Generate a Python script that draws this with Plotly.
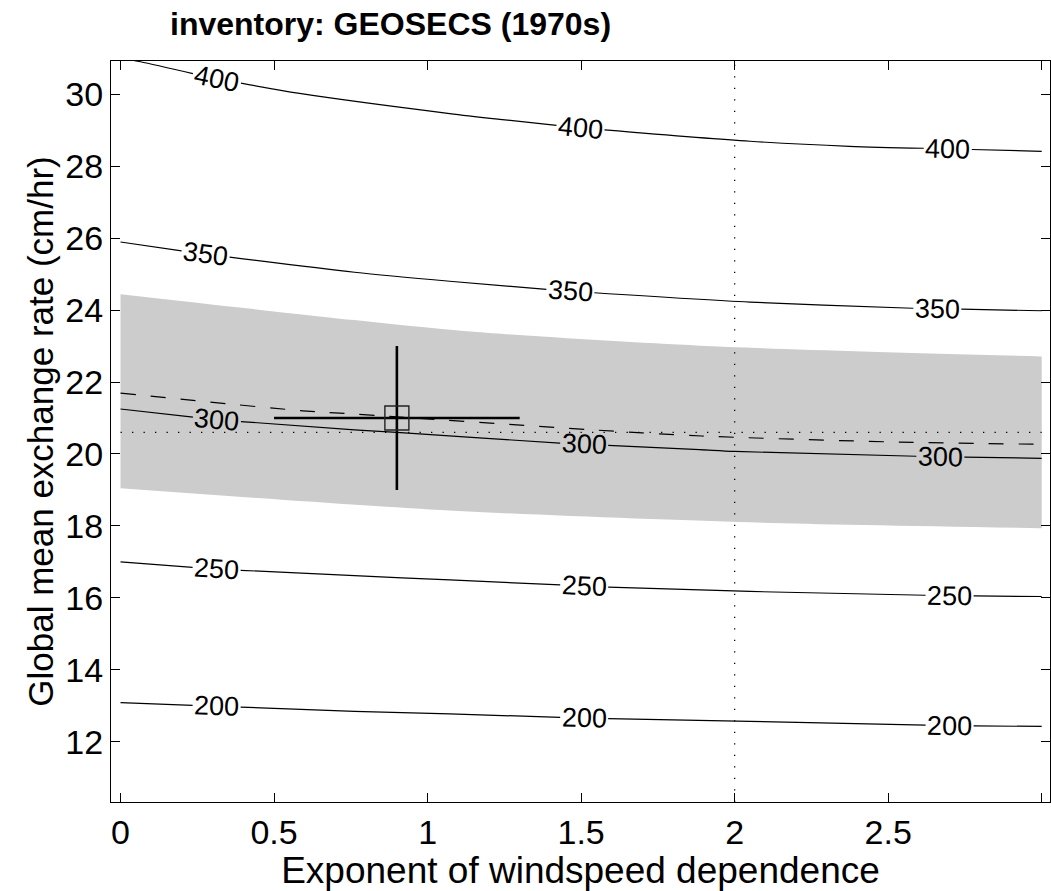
import numpy as np
import plotly.graph_objects as go

# ---------------- data ----------------
levels = [200, 250, 300, 350, 400]

c200_x = [0, 0.313, 0.762, 1.072, 1.435, 1.58, 2.05, 2.7, 3.0]
c200_y = [13.09, 12.99, 12.85, 12.78, 12.68, 12.65, 12.57, 12.45, 12.43]
c250_x = [0, 0.313, 0.762, 1.072, 1.435, 1.582, 2.05, 2.7, 3.0]
c250_y = [17.0, 16.8, 16.62, 16.5, 16.36, 16.3, 16.18, 16.06, 16.04]
c300_x = [0, 0.314, 0.762, 0.9, 1.43, 1.886, 2.0, 2.625, 3.0]
c300_y = [21.25, 20.95, 20.67, 20.6, 20.3, 20.12, 20.07, 19.93, 19.88]
c350_x = [0, 0.277, 0.762, 1.072, 1.465, 2.05, 2.58, 3.0]
c350_y = [25.89, 25.55, 25.05, 24.8, 24.52, 24.22, 24.05, 23.98]
c400_x = [0, 0.065, 0.314, 0.583, 1.072, 1.235, 1.498, 2.05, 2.374, 3.0]
c400_y = [31.0, 30.9, 30.42, 30.02, 29.46, 29.3, 29.06, 28.69, 28.55, 28.41]

label_x = {
    200: [0.313, 1.51, 2.70],
    250: [0.313, 1.51, 2.70],
    300: [0.314, 1.51, 2.67],
    350: [0.277, 1.465, 2.66],
    400: [0.314, 1.498, 2.694],
}

dash_x = [0, 0.594, 0.762, 1.537, 1.893, 2.537, 3.0]
dash_y = [21.69, 21.2, 21.11, 20.67, 20.5, 20.33, 20.27]

band_up_x = [0, 0.762, 1.127, 1.886, 3.0]
band_up_y = [24.44, 23.72, 23.41, 23.01, 22.71]
band_lo_x = [0, 1.072, 2.05, 3.0]
band_lo_y = [19.05, 18.43, 18.1, 17.94]

hline_x = [0, 3]
hline_y = 20.6
vline_x = 2.0

est_x, est_y = 0.9, 21.0
est_ex, est_ey = 0.4, 2.0

x_ticks = [0, 0.5, 1, 1.5, 2, 2.5, 3]
x_ticklabels = ["0", "0.5", "1", "1.5", "2", "2.5", "3"]
y_ticks = [12, 14, 16, 18, 20, 22, 24, 26, 28, 30]

title_text = "inventory: GEOSECS (1970s)"
x_title = "Exponent of windspeed dependence"
y_title = "Global mean exchange rate (cm/hr)"

# ---------------- layout geometry ----------------
W, H = 1051, 891
ML, MR, MT, MB = 111, 1, 61, 89
xr = [-0.031, 3.027]
yr = [10.33, 30.92]
pw, ph = W - ML - MR, H - MT - MB
xpx = pw / (xr[1] - xr[0])
ypx = ph / (yr[1] - yr[0])

FONT = "Liberation Sans, Arial, sans-serif"
contours = {200: (c200_x, c200_y), 250: (c250_x, c250_y), 300: (c300_x, c300_y),
            350: (c350_x, c350_y), 400: (c400_x, c400_y)}


def split_line(xs, ys, labs, half):
    xs = np.asarray(xs, float)
    ys = np.asarray(ys, float)
    cuts = []
    for lx in labs:
        cuts += [lx - half, lx + half]
    allx = np.unique(np.concatenate([xs, cuts]))
    allx = allx[(allx >= xs.min()) & (allx <= xs.max())]
    ally = np.interp(allx, xs, ys)

    def inside(v):
        return any(lx - half + 1e-9 < v < lx + half - 1e-9 for lx in labs)

    ox, oy = [], []
    prev = None
    for a, b in zip(allx, ally):
        if inside(a):
            continue
        if prev is not None and inside((prev + a) / 2):
            ox.append(None)
            oy.append(None)
        ox.append(a)
        oy.append(b)
        prev = a
    return ox, oy


fig = go.Figure()

# grey band (lower edge, then upper edge filled down to it)
fig.add_trace(go.Scatter(
    x=band_lo_x, y=band_lo_y, mode="lines", line=dict(width=0, shape="spline", smoothing=0.8),
    hoverinfo="skip", showlegend=False))
fig.add_trace(go.Scatter(
    x=band_up_x, y=band_up_y, mode="lines", line=dict(width=0, shape="spline", smoothing=0.8),
    fill="tonexty", fillcolor="#cccccc", hoverinfo="skip", showlegend=False))

# horizontal dotted reference
fig.add_trace(go.Scatter(
    x=hline_x, y=[hline_y] * len(hline_x), mode="lines",
    line=dict(color="black", width=1.3, dash="1.3px,10.2px"), showlegend=False))

# dashed curve
fig.add_trace(go.Scatter(
    x=dash_x, y=dash_y, mode="lines",
    line=dict(color="black", width=1.2, dash="15px,15px", shape="spline", smoothing=0.8),
    showlegend=False))

# contours with labels
annotations = []
half = 24 / xpx
for lev in levels:
    cx, cy = contours[lev]
    ox, oy = split_line(cx, cy, label_x[lev], half)
    fig.add_trace(go.Scatter(x=ox, y=oy, mode="lines",
                             line=dict(color="black", width=1.2, shape="spline", smoothing=0.8),
                             connectgaps=False, showlegend=False))
    for lx in label_x[lev]:
        ly = float(np.interp(lx, cx, cy))
        d = 0.06
        y1 = float(np.interp(lx - d, cx, cy))
        y2 = float(np.interp(lx + d, cx, cy))
        ang = np.degrees(np.arctan(-(y2 - y1) * ypx / (2 * d * xpx)))
        annotations.append(dict(x=lx, y=ly, xref="x", yref="y", text=str(lev),
                                showarrow=False, textangle=float(ang),
                                font=dict(family=FONT, size=27, color="black"),
                                xanchor="center", yanchor="middle"))

# estimate with error cross
fig.add_trace(go.Scatter(
    x=[est_x], y=[est_y], mode="markers",
    marker=dict(symbol="square-open", size=24, color="#222222",
                line=dict(width=1.4, color="#222222")),
    error_x=dict(type="constant", value=est_ex, thickness=2.6, width=0, color="black"),
    error_y=dict(type="constant", value=est_ey, thickness=2.6, width=0, color="black"),
    showlegend=False))

# title
annotations.append(dict(x=(168 - ML) / pw, y=1, xref="paper", yref="paper",
                        yshift=17, xanchor="left", yanchor="bottom",
                        text="<b>" + title_text + "</b>", showarrow=False,
                        font=dict(family=FONT, size=32, color="black")))

axis_common = dict(showline=True, linecolor="black", linewidth=1.3, mirror="ticks",
                   ticks="inside", ticklen=9, tickwidth=1.3, tickcolor="black",
                   showgrid=False, zeroline=False,
                   tickfont=dict(family=FONT, size=34, color="black"))

fig.update_layout(
    width=W, height=H,
    margin=dict(l=ML, r=MR, t=MT, b=MB, pad=0),
    paper_bgcolor="white", plot_bgcolor="white",
    xaxis=dict(range=xr, tickvals=x_ticks, ticktext=x_ticklabels,
               title=dict(text=x_title, font=dict(family=FONT, size=37, color="black"),
                          standoff=4),
               **axis_common),
    yaxis=dict(range=yr, tickvals=y_ticks, ticktext=[str(v) for v in y_ticks],
               title=dict(text=y_title, font=dict(family=FONT, size=35, color="black"),
                          standoff=0),
               **axis_common),
    shapes=[dict(type="line", xref="x", yref="paper", x0=vline_x, x1=vline_x, y0=0, y1=1,
                 line=dict(color="black", width=1.3, dash="1.3px,10.2px"), layer="above")],
    annotations=annotations,
    showlegend=False,
)

fig.write_html("out.html")
